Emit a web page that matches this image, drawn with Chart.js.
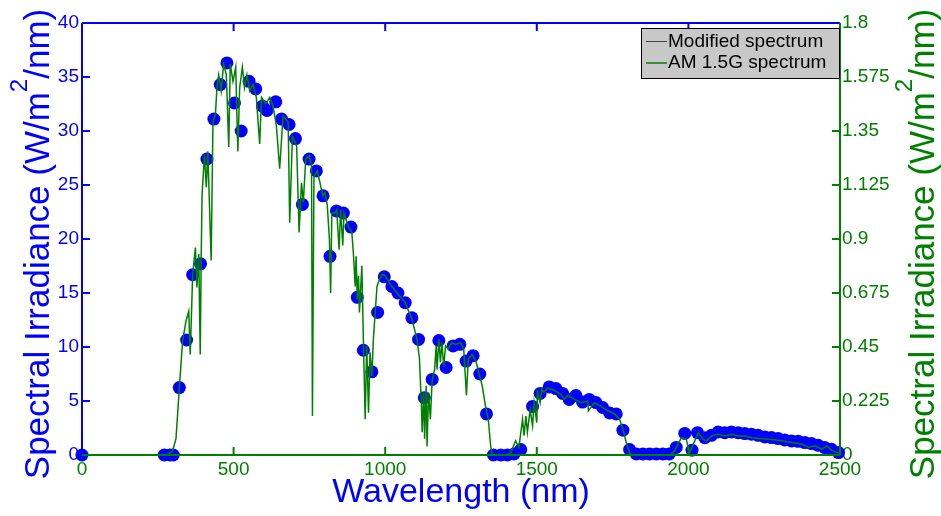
<!DOCTYPE html>
<html>
<head>
<meta charset="utf-8">
<script src="https://cdn.jsdelivr.net/npm/chart.js@4.4.1/dist/chart.umd.min.js"></script>
<style>
  body { margin: 0; background: #fff; }
</style>
</head>
<body>
<canvas id="spectrumChart" width="941" height="516"></canvas>
<script>
// Modified spectrum (blue dots, left axis)
const modWl = [
  0, 271, 290, 301, 321, 345, 365, 391, 412, 435,
  456, 478, 503, 525, 551, 573, 595, 610, 639, 658,
  683, 704, 727, 749, 773, 795, 818, 839, 862, 887,
  908, 928, 956, 975, 997, 1022, 1042, 1066, 1088, 1110,
  1129, 1155, 1177, 1201, 1224, 1246, 1267, 1290, 1312, 1334,
  1357, 1381, 1403, 1425, 1447, 1486, 1511, 1541, 1563, 1585,
  1607, 1629, 1651, 1673, 1695, 1717, 1740, 1762, 1784, 1806,
  1828, 1850, 1872, 1894, 1916, 1937, 1960, 1988, 2012, 2030,
  2054, 2076, 2098, 2120, 2142, 2164, 2186, 2208, 2230, 2252,
  2274, 2296, 2318, 2340, 2362, 2384, 2406, 2428, 2450, 2472,
  2495
];
const modVal = [
  0, 0, 0, 0, 6.24, 10.65, 16.7, 17.7, 27.4, 31.1,
  34.3, 36.3, 32.6, 30.0, 34.6, 33.9, 32.3, 31.9, 32.7, 31.1,
  30.6, 29.3, 23.2, 27.4, 26.3, 24.0, 18.4, 22.6, 22.4, 21.1,
  14.6, 9.7, 7.7, 13.2, 16.5, 15.6, 15.0, 14.1, 12.7, 10.7,
  5.3, 7.0, 10.6, 8.1, 10.1, 10.25, 8.7, 9.2, 7.5, 3.8,
  0, 0, 0, 0.1, 0.5, 4.5, 5.7, 6.3, 6.15, 5.7,
  5.15, 5.5, 4.9, 5.15, 4.85, 4.4, 3.9, 3.8, 2.3, 0.5,
  0.1, 0.1, 0.1, 0.1, 0.1, 0.1, 0.7, 2.0, 0.45, 2.07,
  1.6, 1.82, 2.13, 2.07, 2.13, 2.07, 1.98, 1.92, 1.82, 1.67,
  1.61, 1.52, 1.39, 1.3, 1.27, 1.15, 1.06, 0.9, 0.69, 0.53,
  0.22
];

// AM 1.5G spectrum (green line, right axis)
const amWl = [
  0, 280, 299, 310, 321, 332, 343, 352, 357, 365,
  374, 379, 385, 390, 393, 396, 404, 410, 415, 426,
  432, 440, 445, 451, 459, 467, 476, 484, 489, 498,
  507, 514, 520, 529, 536, 544, 553, 564, 575, 586,
  592, 606, 619, 630, 641, 652, 663, 680, 685, 694,
  708, 716, 724, 730, 738, 749, 757, 760, 765, 776,
  785, 794, 801, 809, 816, 820, 824, 834, 840, 848,
  853, 860, 864, 871, 878, 890, 895, 901, 904, 908,
  912, 915, 923, 928, 934, 939, 945, 950, 956, 961,
  967, 973, 979, 989, 1000, 1017, 1039, 1066, 1088, 1105,
  1113, 1119, 1122, 1127, 1130, 1135, 1138, 1143, 1149, 1155,
  1163, 1168, 1171, 1177, 1182, 1187, 1193, 1199, 1208, 1219,
  1232, 1248, 1259, 1268, 1274, 1287, 1300, 1309, 1320, 1331,
  1340, 1348, 1353, 1360, 1400, 1414, 1430, 1441, 1453, 1458,
  1464, 1469, 1478, 1486, 1491, 1500, 1502, 1511, 1516, 1524,
  1535, 1557, 1580, 1590, 1602, 1624, 1646, 1668, 1670, 1690,
  1712, 1734, 1756, 1773, 1784, 1795, 1806, 1815, 1940, 1955,
  1977, 1993, 2004, 2021, 2032, 2049, 2060, 2076, 2098, 2120,
  2142, 2164, 2187, 2209, 2242, 2275, 2308, 2341, 2374, 2396,
  2418, 2440, 2457, 2474, 2490, 2500
];
const amVal = [
  0, 0, 0.018, 0.068, 0.279, 0.477, 0.558, 0.599, 0.419, 0.752,
  0.864, 0.698, 0.837, 0.419, 0.81, 1.085, 1.251, 1.116, 1.265, 0.81,
  1.391, 1.418, 1.53, 1.584, 1.517, 1.629, 1.584, 1.283, 1.629, 1.557,
  1.616, 1.265, 1.53, 1.616, 1.53, 1.584, 1.517, 1.544, 1.49, 1.296,
  1.49, 1.463, 1.49, 1.454, 1.373, 1.193, 1.413, 1.386, 0.968, 1.328,
  1.287, 0.927, 1.134, 1.053, 1.233, 1.247, 1.206, 0.162, 1.161, 1.184,
  1.134, 1.08, 1.094, 1.04, 0.9, 0.675, 1.008, 1.008, 1.022, 0.855,
  1.022, 0.873, 1.008, 0.981, 0.954, 0.927, 0.842, 0.702, 0.828, 0.648,
  0.747, 0.594, 0.788, 0.482, 0.149, 0.455, 0.176, 0.428, 0.329, 0.482,
  0.594, 0.702, 0.725, 0.752, 0.747, 0.711, 0.675, 0.635, 0.567, 0.482,
  0.401, 0.221, 0.095, 0.261, 0.068, 0.288, 0.036, 0.261, 0.149, 0.315,
  0.356, 0.455, 0.356, 0.482, 0.387, 0.468, 0.369, 0.455, 0.441, 0.468,
  0.461, 0.468, 0.441, 0.248, 0.401, 0.419, 0.387, 0.342, 0.288, 0.203,
  0.149, 0.036, 0.002, 0, 0, 0.009, 0.059, 0.032, 0.149, 0.081,
  0.162, 0.095, 0.189, 0.122, 0.218, 0.135, 0.261, 0.218, 0.275, 0.261,
  0.279, 0.27, 0.252, 0.232, 0.248, 0.232, 0.218, 0.225, 0.185, 0.218,
  0.203, 0.185, 0.171, 0.149, 0.108, 0.052, 0.009, 0, 0, 0.018,
  0.072, 0.065, 0.009, 0.059, 0.093, 0.065, 0.059, 0.079, 0.086, 0.079,
  0.086, 0.079, 0.079, 0.072, 0.068, 0.065, 0.059, 0.052, 0.045, 0.032,
  0.038, 0.024, 0.038, 0.018, 0.01, 0.007
];

// tick values
const xTicks = [0, 500, 1000, 1500, 2000, 2500];
const leftTicks = [0, 5, 10, 15, 20, 25, 30, 35, 40];
const rightTicks = [0, 0.225, 0.45, 0.675, 0.9, 1.125, 1.35, 1.575, 1.8];

const BLUE = '#0000ff';
const GREEN = '#008000';
const FONT = "'Liberation Sans', Arial, sans-serif";
// y title split around the superscript 2
const yTitleParts = ['Spectral Irradiance (W/m', '2', '/nm)'];

// vertical title reading bottom to top, with a raised 2
function drawYTitle(ctx, baseX, midY, color) {
  ctx.save();
  ctx.translate(baseX, midY);
  ctx.rotate(-Math.PI / 2);
  ctx.fillStyle = color;
  ctx.textBaseline = 'alphabetic';
  ctx.textAlign = 'left';
  const big = '35px ' + FONT, small = '24px ' + FONT;
  ctx.font = big;
  const w1 = ctx.measureText(yTitleParts[0]).width;
  const w3 = ctx.measureText(yTitleParts[2]).width;
  ctx.font = small;
  const w2 = ctx.measureText(yTitleParts[1]).width;
  let x = -(w1 + w2 + w3) / 2;
  ctx.font = big;
  ctx.fillText(yTitleParts[0], x, 0);
  x += w1;
  ctx.font = small;
  ctx.fillText(yTitleParts[1], x, -22);
  x += w2;
  ctx.font = big;
  ctx.fillText(yTitleParts[2], x, 0);
  ctx.restore();
}

// axes frame with inward ticks, matlab style
const framePlugin = {
  id: 'frame',
  afterDatasetsDraw(chart) {
    const { ctx, chartArea: a, scales } = chart;
    const seg = (color, x1, y1, x2, y2) => {
      ctx.strokeStyle = color;
      ctx.beginPath();
      ctx.moveTo(x1, y1);
      ctx.lineTo(x2, y2);
      ctx.stroke();
    };
    ctx.save();
    ctx.lineWidth = 2;
    scales.x.ticks.forEach(t => {
      const px = scales.x.getPixelForValue(t.value);
      seg(BLUE, px, a.top, px, a.top + 8);
      seg(GREEN, px, a.bottom, px, a.bottom - 8);
    });
    scales.y.ticks.forEach(t => {
      const py = scales.y.getPixelForValue(t.value);
      seg(BLUE, a.left, py, a.left + 8, py);
    });
    scales.y1.ticks.forEach(t => {
      const py = scales.y1.getPixelForValue(t.value);
      seg(GREEN, a.right, py, a.right - 8, py);
    });
    seg(BLUE, a.left, a.top, a.right, a.top);
    seg(BLUE, a.left, a.top, a.left, a.bottom);
    seg(GREEN, a.right, a.top, a.right, a.bottom);
    seg(GREEN, a.left, a.bottom, a.right, a.bottom);
    ctx.restore();
  },
  afterDraw(chart) {
    const { ctx, chartArea: a } = chart;
    const midY = (a.top + a.bottom) / 2 + 5;
    drawYTitle(ctx, 49, midY, BLUE);
    drawYTitle(ctx, 934, midY, GREEN);

    // legend box
    const bx = a.right - 199, by = a.top + 5, bw = 198, bh = 50;
    ctx.save();
    ctx.fillStyle = '#c8c8c8';
    ctx.fillRect(bx, by, bw, bh);
    ctx.strokeStyle = '#000';
    ctx.lineWidth = 1;
    ctx.strokeRect(bx + 0.5, by + 0.5, bw, bh);
    ctx.font = '19px ' + FONT;
    ctx.textBaseline = 'middle';
    chart.data.datasets.forEach((ds, i) => {
      const ly = by + 13.5 + i * 21.5;
      ctx.strokeStyle = ds.legendColor;
      ctx.lineWidth = ds.legendWidth;
      ctx.beginPath();
      ctx.moveTo(bx + 5, ly);
      ctx.lineTo(bx + 26, ly);
      ctx.stroke();
      ctx.fillStyle = '#000';
      ctx.fillText(ds.label, bx + 27, ly);
    });
    ctx.restore();
  }
};

new Chart(document.getElementById('spectrumChart'), {
  type: 'line',
  data: {
    datasets: [{
      label: 'Modified spectrum',
      data: modWl.map((w, i) => ({ x: w, y: modVal[i] })),
      yAxisID: 'y',
      showLine: false,
      pointRadius: 6.5,
      pointBackgroundColor: BLUE,
      pointBorderWidth: 0,
      clip: false,
      order: 1,
      legendColor: '#444',
      legendWidth: 1
    }, {
      label: 'AM 1.5G spectrum',
      data: amWl.map((w, i) => ({ x: w, y: amVal[i] })),
      yAxisID: 'y1',
      borderColor: GREEN,
      borderWidth: 1.5,
      pointRadius: 0,
      tension: 0,
      order: 0,
      legendColor: GREEN,
      legendWidth: 1.5
    }]
  },
  options: {
    responsive: false,
    animation: false,
    layout: { padding: { top: 23, left: 0, right: 0, bottom: 0 } },
    plugins: { legend: { display: false }, tooltip: { enabled: false } },
    scales: {
      x: {
        type: 'linear',
        min: 0,
        max: 2500,
        afterBuildTicks: s => { s.ticks = xTicks.map(v => ({ value: v })); },
        afterFit: s => { s.height = 61; },
        grid: { display: false, drawTicks: false },
        border: { display: false },
        ticks: { color: GREEN, font: { size: 19, family: FONT }, padding: 3, callback: v => String(v) },
        title: {
          display: true,
          text: 'Wavelength (nm)',
          color: BLUE,
          font: { size: 34, family: FONT },
          padding: { top: 0, bottom: 3 }
        }
      },
      y: {
        position: 'left',
        min: 0,
        max: 40,
        afterBuildTicks: s => { s.ticks = leftTicks.map(v => ({ value: v })); },
        afterFit: s => { s.width = 82; },
        grid: { display: false, drawTicks: false },
        border: { display: false },
        ticks: { color: BLUE, font: { size: 19, family: FONT }, padding: 3, callback: v => String(v) }
      },
      y1: {
        position: 'right',
        min: 0,
        max: 1.8,
        afterBuildTicks: s => { s.ticks = rightTicks.map(v => ({ value: v })); },
        afterFit: s => { s.width = 101; },
        grid: { display: false, drawTicks: false },
        border: { display: false },
        ticks: { color: GREEN, font: { size: 19, family: FONT }, padding: 2, callback: v => String(v) }
      }
    }
  },
  plugins: [framePlugin]
});
</script>
</body>
</html>
